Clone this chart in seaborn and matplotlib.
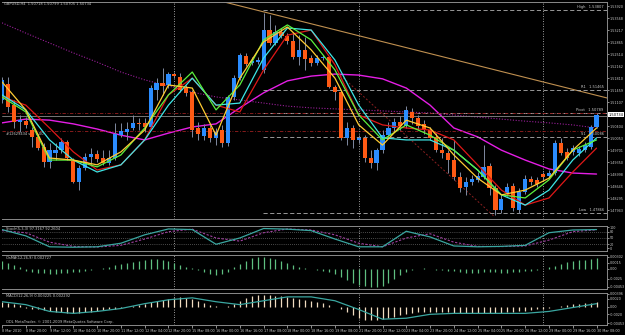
import numpy as np
import matplotlib
matplotlib.use("Agg")
import matplotlib.pyplot as plt
import seaborn as sns

# GBPUSD H4, 8 Mar 2010 04:00 .. 30 Mar 2010 08:00  (101 bars)
open_ = [1.5117, 1.5164, 1.5102, 1.5053, 1.5055, 1.5029, 1.5009, 1.4979, 1.4935, 1.4962,
         1.4970, 1.4994, 1.4938, 1.4877, 1.4918, 1.4950, 1.4959, 1.4947, 1.4932, 1.4947,
         1.5014, 1.5023, 1.5035, 1.5050, 1.5050, 1.5038, 1.5146, 1.5167, 1.5161, 1.5193,
         1.5184, 1.5152, 1.5140, 1.5035, 1.5012, 1.5035, 1.5006, 1.5029, 1.4991, 1.5126,
         1.5181, 1.5246, 1.5225, 1.5228, 1.5205, 1.5322, 1.5284, 1.5316, 1.5305, 1.5290,
         1.5243, 1.5264, 1.5240, 1.5225, 1.5240, 1.5243, 1.5155, 1.5140, 1.5006, 1.5035,
         1.5000, 1.5006, 1.4947, 1.4932, 1.4970, 1.5014, 1.5035, 1.5053, 1.5041, 1.5082,
         1.5064, 1.5047, 1.5029, 1.5009, 1.4970, 1.4962, 1.4941, 1.4891, 1.4862, 1.4877,
         1.4883, 1.4891, 1.4924, 1.4859, 1.4795, 1.4845, 1.4865, 1.4795, 1.4847, 1.4886,
         1.4883, 1.4900, 1.4894, 1.4903, 1.4991, 1.4965, 1.4965, 1.4962, 1.4970, 1.4979,
         1.5038]
high = [1.5184, 1.5184, 1.5117, 1.5073, 1.5067, 1.5038, 1.5017, 1.4991, 1.4991, 1.4991,
        1.5006, 1.5000, 1.4947, 1.4927, 1.4962, 1.4976, 1.4970, 1.4970, 1.4970, 1.5050,
        1.5050, 1.5053, 1.5073, 1.5064, 1.5064, 1.5161, 1.5181, 1.5211, 1.5199, 1.5199,
        1.5196, 1.5161, 1.5146, 1.5053, 1.5047, 1.5044, 1.5035, 1.5044, 1.5132, 1.5190,
        1.5255, 1.5255, 1.5243, 1.5243, 1.5372, 1.5366, 1.5337, 1.5328, 1.5313, 1.5313,
        1.5307, 1.5302, 1.5249, 1.5249, 1.5249, 1.5246, 1.5161, 1.5146, 1.5053, 1.5044,
        1.5014, 1.5014, 1.4970, 1.4976, 1.5029, 1.5053, 1.5064, 1.5070, 1.5099, 1.5094,
        1.5073, 1.5058, 1.5038, 1.5020, 1.5006, 1.4970, 1.5000, 1.4906, 1.4891, 1.4897,
        1.4906, 1.4985, 1.4932, 1.4868, 1.4839, 1.4874, 1.4874, 1.4859, 1.4897, 1.4894,
        1.4891, 1.4906, 1.4912, 1.5000, 1.5006, 1.4976, 1.4985, 1.4982, 1.4994, 1.5044,
        1.5079]
low = [1.5108, 1.5082, 1.5035, 1.5023, 1.5035, 1.4979, 1.4970, 1.4921, 1.4918, 1.4941,
       1.4962, 1.4941, 1.4874, 1.4853, 1.4912, 1.4924, 1.4935, 1.4927, 1.4927, 1.4941,
       1.5009, 1.5000, 1.5029, 1.5029, 1.5023, 1.5035, 1.5117, 1.5132, 1.5152, 1.5181,
       1.5140, 1.5129, 1.5009, 1.5000, 1.5000, 1.4994, 1.4985, 1.4979, 1.4982, 1.5117,
       1.5176, 1.5217, 1.5220, 1.5222, 1.5196, 1.5278, 1.5278, 1.5299, 1.5281, 1.5237,
       1.5220, 1.5205, 1.5217, 1.5220, 1.5234, 1.5152, 1.5117, 1.5000, 1.4985, 1.4976,
       1.4991, 1.4935, 1.4918, 1.4912, 1.4962, 1.5006, 1.5023, 1.5029, 1.5035, 1.5047,
       1.5029, 1.5017, 1.5000, 1.4965, 1.4947, 1.4903, 1.4883, 1.4847, 1.4839, 1.4868,
       1.4877, 1.4886, 1.4839, 1.4780, 1.4786, 1.4836, 1.4792, 1.4786, 1.4842, 1.4868,
       1.4862, 1.4883, 1.4888, 1.4897, 1.4956, 1.4941, 1.4956, 1.4953, 1.4965, 1.4973,
       1.5035]
close = [1.5176, 1.5096, 1.5053, 1.5058, 1.5044, 1.5009, 1.4976, 1.4935, 1.4970, 1.4970,
         1.4994, 1.4947, 1.4877, 1.4918, 1.4950, 1.4959, 1.4944, 1.4932, 1.4947, 1.5017,
         1.5026, 1.5032, 1.5050, 1.5047, 1.5038, 1.5152, 1.5167, 1.5158, 1.5193, 1.5187,
         1.5146, 1.5138, 1.5029, 1.5017, 1.5035, 1.5006, 1.5023, 1.4991, 1.5126, 1.5181,
         1.5249, 1.5222, 1.5231, 1.5234, 1.5322, 1.5284, 1.5316, 1.5305, 1.5290, 1.5243,
         1.5264, 1.5237, 1.5225, 1.5240, 1.5243, 1.5155, 1.5140, 1.5006, 1.5035, 1.5000,
         1.5006, 1.4947, 1.4932, 1.4970, 1.5014, 1.5035, 1.5053, 1.5041, 1.5088, 1.5064,
         1.5041, 1.5029, 1.5006, 1.4970, 1.4962, 1.4941, 1.4891, 1.4859, 1.4877, 1.4886,
         1.4894, 1.4921, 1.4859, 1.4795, 1.4827, 1.4862, 1.4801, 1.4847, 1.4886, 1.4877,
         1.4871, 1.4891, 1.4903, 1.4991, 1.4962, 1.4947, 1.4976, 1.4973, 1.4985, 1.5038,
         1.5073]

# moving averages read every 4th bar
ma_bars = list(range(0, 101, 4))
ma_yellow = [1.5170, 1.5088, 1.4947, 1.4941, 1.4927, 1.4965, 1.5029, 1.5161, 1.5152, 1.5014,
             1.5181, 1.5287, 1.5331, 1.5264, 1.5181, 1.5044, 1.4985, 1.5058, 1.5035, 1.4956,
             1.4888, 1.4839, 1.4853, 1.4888, 1.4970, 1.5035]
ma_green = [1.5126, 1.5082, 1.4941, 1.4941, 1.4921, 1.4956, 1.5035, 1.5132, 1.5199, 1.5088,
            1.5161, 1.5293, 1.5337, 1.5293, 1.5205, 1.5073, 1.5000, 1.5044, 1.5014, 1.4970,
            1.4912, 1.4839, 1.4830, 1.4883, 1.4970, 1.5000]
ma_cyan = [1.5132, 1.5088, 1.5000, 1.4941, 1.4906, 1.4927, 1.5000, 1.5102, 1.5181, 1.5102,
           1.5108, 1.5240, 1.5328, 1.5322, 1.5234, 1.5102, 1.5006, 1.5000, 1.5000, 1.4970,
           1.4912, 1.4839, 1.4809, 1.4853, 1.4941, 1.5006]
ma_red = [1.5126, 1.5102, 1.5035, 1.4965, 1.4912, 1.4927, 1.5000, 1.5132, 1.5181, 1.5102,
          1.5082, 1.5205, 1.5307, 1.5322, 1.5220, 1.5073, 1.5044, 1.5035, 1.5029, 1.5000,
          1.4927, 1.4853, 1.4809, 1.4830, 1.4906, 1.4976]
ma_magenta = [1.5050, 1.5061, 1.5058, 1.5047, 1.5032, 1.5014, 1.5000, 1.5020, 1.5038, 1.5047,
              1.5094, 1.5138, 1.5173, 1.5187, 1.5193, 1.5190, 1.5179, 1.5152, 1.5102, 1.5035,
              1.5009, 1.4970, 1.4941, 1.4915, 1.4903, 1.4900]
ma_slow = [1.5343, 1.5313, 1.5284, 1.5255, 1.5228, 1.5199, 1.5176, 1.5158, 1.5140, 1.5126,
           1.5117, 1.5108, 1.5099, 1.5094, 1.5091, 1.5088, 1.5085, 1.5082, 1.5079, 1.5073,
           1.5067, 1.5061, 1.5055, 1.5050, 1.5044, 1.5035]

# Stochastic(5,3,3), same 4-bar grid
stoch_main = [90, 60, 8, 6, 8, 25, 65, 93, 90, 20, 50, 95, 92, 85, 45, 8, 8, 82, 55, 12,
              8, 10, 15, 75, 88, 90]
stoch_signal = [85, 75, 30, 10, 7, 15, 45, 80, 92, 50, 35, 75, 93, 88, 65, 25, 8, 50, 70, 30,
                10, 9, 12, 40, 80, 89]

osma = [0.0020, 0.0015, 0.0010, 0.0005,
        -0.0005, -0.00075, -0.0010, -0.0010, -0.00125, -0.00125, -0.0010, -0.0010, -0.00075,
        -0.00075, -0.0005, -0.00025, 0.0, 0.00025,
        0.0005, 0.0010, 0.00125, 0.0015, 0.00175, 0.0020, 0.00225, 0.0025, 0.0025, 0.00225, 0.0020,
        0.0015, 0.0010, 0.0005, 0.00025, -0.00025,
        -0.00075, -0.00125, -0.0015, -0.00125, -0.00075,
        0.0005, 0.00125, 0.0020, 0.00275, 0.0030, 0.0030, 0.00275, 0.0025, 0.0020,
        0.0015, 0.0010, 0.0005, 0.00025, 0.0, -0.00025,
        -0.0005, -0.00075, -0.00125, -0.0020, -0.00275, -0.0035, -0.0040, -0.00425, -0.0045,
        -0.0045, -0.00425, -0.0035, -0.0025, -0.0015, -0.00075, -0.00025, 0.0, 0.00025, 0.0,
        -0.00025, -0.00025, -0.0005, -0.0005, -0.00075, -0.0010, -0.0010, -0.0010, -0.00075,
        -0.00075, -0.00075, -0.0010, -0.0010, -0.00075, -0.00075, -0.0005, -0.0005, -0.00025, 0.0,
        0.0005, 0.00075, 0.00125, 0.00175, 0.0020, 0.00225, 0.00225, 0.0025, 0.00275]

macd = [0.00125, 0.0010, 0.00075, 0.0005,
        -0.00025, -0.0005, -0.00075, -0.0010, -0.00125, -0.0015, -0.0015, -0.00175, -0.00175,
        -0.00175, -0.0015, -0.0015, -0.00125, -0.0010,
        -0.00075, -0.0005, -0.00025, 0.0, 0.00025, 0.0005, 0.00075, 0.00125, 0.0015, 0.00175, 0.0020,
        0.00225, 0.0025, 0.00225, 0.0020, 0.0015,
        0.0010, 0.0005, 0.00025, 0.0, 0.00025,
        0.00075, 0.0015, 0.00225, 0.00275, 0.0030, 0.0030, 0.0030, 0.00275, 0.00275,
        0.0025, 0.00225, 0.0020, 0.00175, 0.0015, 0.00125, 0.0010,
        0.0005, 0.0, -0.00075, -0.0015, -0.00225, -0.0030, -0.0035, -0.0035,
        -0.0035, -0.00325, -0.0030, -0.00275, -0.00225, -0.0020,
        -0.00175, -0.0015, -0.0015, -0.0015, -0.0015, -0.0015, -0.0015,
        -0.00175, -0.00175, -0.00175, -0.00175, -0.00175, -0.00175, -0.00175, -0.00175, -0.00175,
        -0.0015, -0.0015, -0.00125, -0.00125, -0.0010, -0.00075,
        -0.0005, -0.00025, 0.0, 0.00025, 0.0005, 0.00075, 0.00075, 0.0010, 0.0010, 0.00125]
macd_signal = [0.00125, 0.0005, -0.00125, -0.00175, -0.00125, -0.0005, 0.00075, 0.00175, 0.00225,
               0.00125, 0.0005, 0.0015, 0.0025, 0.0025, 0.0015, -0.00075, -0.00325, -0.0030,
               -0.0020, -0.00175, -0.00175, -0.00175, -0.00175, -0.00125, -0.00025, 0.00075]

# chart objects
trend_bars = [36.05, 101.76]
trend_price = [1.5410, 1.5123]
channel_bars = [56.9, 82.9]
channel_price = [1.5190, 1.4774]
levels = {"High": 1.53807, "R1": 1.51465, "Pivot": 1.50789, "S1": 1.50086, "Low": 1.47866}
order_lines = [1.5079, 1.5026]
pivot_line = 1.5070
week_starts = [29, 60, 91]

date_labels = ["8 Mar 2010", "8 Mar 20:00", "9 Mar 12:00", "10 Mar 04:00", "10 Mar 20:00",
               "11 Mar 12:00", "12 Mar 04:00", "12 Mar 20:00", "15 Mar 08:00", "16 Mar 00:00",
               "16 Mar 16:00", "17 Mar 08:00", "18 Mar 00:00", "18 Mar 16:00", "19 Mar 08:00",
               "21 Mar 20:00", "22 Mar 12:00", "23 Mar 04:00", "23 Mar 20:00", "24 Mar 12:00",
               "25 Mar 04:00", "25 Mar 20:00", "26 Mar 12:00", "29 Mar 00:00", "29 Mar 16:00",
               "30 Mar 08:00"]
price_ticks = [1.53920, 1.53568, 1.53217, 1.52865, 1.52514, 1.52162, 1.51810, 1.51459, 1.51107,
               1.50404, 1.50053, 1.49701, 1.49350, 1.48998, 1.48646, 1.48295, 1.47943]
last_price = 1.50734
stoch_ticks = [100, 80, 50, 20, 0]
osma_ticks = [0.0030, 0.0015, 0.0, -0.0025, -0.0045]
osma_tick_labels = ["0.00302", "0.0015", "0.00", "-0.0025", "-0.00453"]
macd_ticks = [0.0033, 0.0020, 0.0, -0.0020, -0.0043]
macd_tick_labels = ["0.00396", "0.0020", "0.00", "-0.0020", "-0.00453"]

sns.set_theme(style="dark", rc={"axes.facecolor": "black", "figure.facecolor": "black"})
plt.rcParams["font.family"] = ["DejaVu Sans"]

FG = "#c8c8c8"
TINY = 2.6
W, H = 625, 335


def box(top, bottom, left=2, right=607):
    return [left / W, 1 - bottom / H, (right - left) / W, (bottom - top) / H]


fig = plt.figure(figsize=(6.25, 3.35), dpi=100)
ax = fig.add_axes(box(2, 219))
ax_st = fig.add_axes(box(226, 251), sharex=ax)
ax_os = fig.add_axes(box(255, 289), sharex=ax)
ax_md = fig.add_axes(box(293, 325), sharex=ax)
axes = [ax, ax_st, ax_os, ax_md]

idx = np.arange(len(close))
o, h, l, c = map(np.array, (open_, high, low, close))

# candles
ax.vlines(idx, l, h, color="#7f8aa0", lw=0.7, zorder=3)
up = c >= o
body_lo = np.minimum(o, c)
body_h = np.maximum(np.abs(c - o), 0.0003)
ax.bar(idx[up], body_h[up], bottom=body_lo[up], width=0.7, color="#2b8cff", lw=0, zorder=4)
ax.bar(idx[~up], body_h[~up], bottom=body_lo[~up], width=0.7, color="#ff5a14", lw=0, zorder=4)

# moving averages
sns.lineplot(x=ma_bars, y=ma_slow, ax=ax, color="#9a1f9a", lw=0.8, linestyle=(0, (1, 1.5)))
sns.lineplot(x=ma_bars, y=ma_magenta, ax=ax, color="#e51ee5", lw=1.0)
sns.lineplot(x=ma_bars, y=ma_red, ax=ax, color="#e01818", lw=0.9, zorder=5)
sns.lineplot(x=ma_bars, y=ma_cyan, ax=ax, color="#3ee6e6", lw=0.9, zorder=5)
sns.lineplot(x=ma_bars, y=ma_green, ax=ax, color="#5cf03c", lw=0.9, zorder=5)
sns.lineplot(x=ma_bars, y=ma_yellow, ax=ax, color="#ffcc33", lw=0.9, zorder=5)

# objects
ax.plot(trend_bars, trend_price, color="#c09050", lw=0.8)
ax.plot(channel_bars, channel_price, color="#8b2020", lw=0.7, linestyle=(0, (2, 2)))
for name, val in levels.items():
    ax.hlines(val, 43.9, 101.76, color="#b0b0b0", lw=0.6, linestyles=(0, (5, 3)))
    ax.text(101.2, val + 0.0002, f"{name}   {val:.5f}", color=FG, fontsize=TINY,
            ha="right", va="bottom")
for val in order_lines:
    ax.axhline(val, color="#9a2020", lw=0.6, linestyle=(0, (4, 2, 1, 2)))
ax.axhline(pivot_line, color="#8a8a8a", lw=0.6)
ax.text(0.6, order_lines[1] - 0.0002, "#12629434 sell 1.00", color=FG, fontsize=TINY, va="top")
ax.text(0.4, 1.5397, "GBPUSD,H4  1.50718 1.50799 1.50705 1.50734", color=FG,
        fontsize=TINY, va="center")

ax.set_ylim(1.476833, 1.540414)
ax.set_yticks(price_ticks, [f"{p:.5f}" for p in price_ticks])
ax.text(1.002, (last_price - 1.476833) / (1.540414 - 1.476833), f"{last_price:.5f}",
        transform=ax.transAxes, fontsize=TINY, color="black", va="center", ha="left",
        bbox=dict(boxstyle="square,pad=0.12", fc="white", ec="none"))

# stochastic
for lv in (80, 50, 20):
    ax_st.axhline(lv, color="#909090", lw=0.5, linestyle=(0, (1, 2)))
sns.lineplot(x=ma_bars, y=stoch_signal, ax=ax_st, color="#a040a0", lw=0.8, linestyle=(0, (2, 1.5)))
sns.lineplot(x=ma_bars, y=stoch_main, ax=ax_st, color="#3aa6a0", lw=0.9)
ax_st.set_ylim(-12, 107)
ax_st.set_yticks(stoch_ticks, [str(v) for v in stoch_ticks])
ax_st.text(0.6, 103, "Stoch(5,3,3) 97.3167 92.2604", color=FG, fontsize=TINY, va="top")

# OsMA
ax_os.vlines(idx, 0, osma, color="#5fbf80", lw=0.9)
ax_os.set_ylim(-0.005, 0.0035)
ax_os.set_yticks(osma_ticks, osma_tick_labels)
ax_os.text(0.6, 0.0033, "OsMA(12,26,9) 0.002727", color=FG, fontsize=TINY, va="top")

# MACD
ax_md.vlines(idx, 0, macd, color="#f0dcc0", lw=0.9)
sns.lineplot(x=ma_bars, y=macd_signal, ax=ax_md, color="#3aa6a0", lw=0.9)
ax_md.set_ylim(-0.00475, 0.0035)
ax_md.set_yticks(macd_ticks, macd_tick_labels)
ax_md.text(0.6, 0.0033, "MACD(12,26,9) 0.003225 0.002292", color=FG, fontsize=TINY, va="top")
ax_md.text(0.6, -0.0046, "ODL MetaTrader, \u00a9 2001-2009 MetaQuotes Software Corp.",
           color=FG, fontsize=TINY, va="bottom")

for a in axes:
    a.set_facecolor("black")
    a.set_xlim(0.08, 101.76)
    a.set_xlabel("")
    a.set_ylabel("")
    a.grid(False)
    for ws in week_starts:
        a.axvline(ws, color="#d0d0d0", lw=0.6, linestyle=(0, (1, 2)), zorder=1)
    for s in a.spines.values():
        s.set_color("#8a8a8a")
        s.set_linewidth(0.7)
    a.spines["left"].set_visible(False)
    a.yaxis.tick_right()
    a.tick_params(axis="y", colors=FG, labelsize=2.4, length=1.5, width=0.5, pad=0.5,
                  direction="out")
    a.tick_params(axis="x", bottom=False, labelbottom=False)

ax_md.set_xticks(ma_bars, date_labels)
ax_md.tick_params(axis="x", bottom=True, labelbottom=True, colors=FG, labelsize=2.4,
                  length=2, width=0.5, pad=1)
for t in ax_md.get_xticklabels():
    t.set_horizontalalignment("left")

fig.savefig("out.png", dpi=100, facecolor="black")
